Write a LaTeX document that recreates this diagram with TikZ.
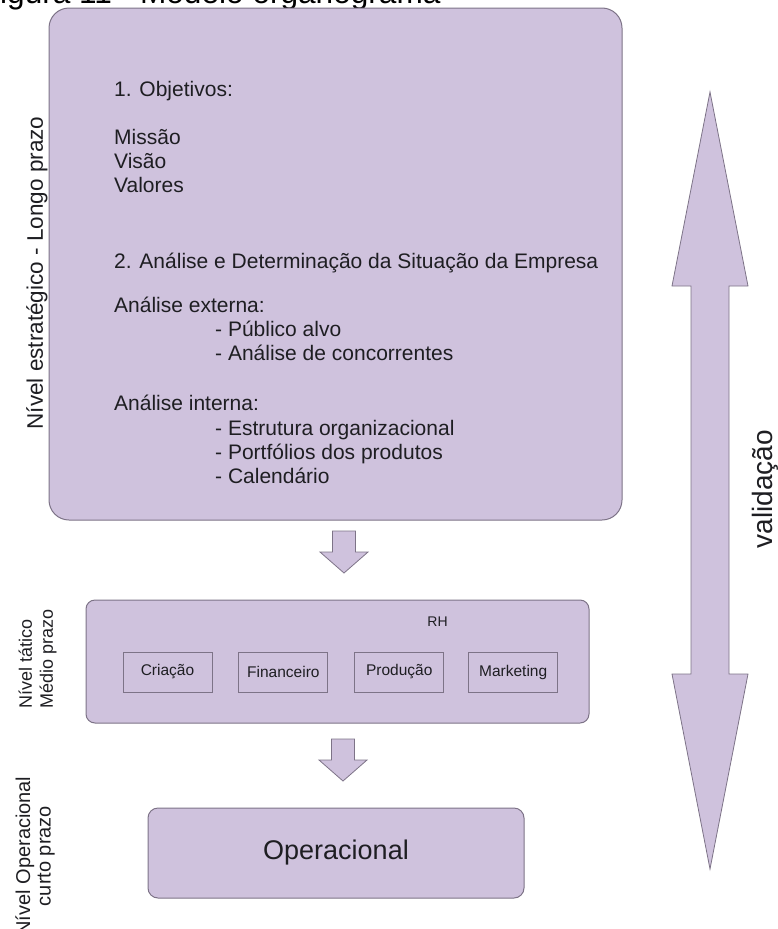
\documentclass[tikz,border=0pt]{standalone}
\usepackage{fontspec}
\setmainfont{Liberation Sans}
\usetikzlibrary{positioning}

\definecolor{lilas}{RGB}{207,194,221}
\definecolor{contorno}{RGB}{125,115,135}
\definecolor{texto}{RGB}{30,30,34}

% seta larga para baixo: x do centro, y do topo
\newcommand{\setabaixo}[2]{%
  \draw[bloco] (#1-11.5,#2) -- (#1+11.5,#2) -- (#1+11.5,#2+21) -- (#1+24,#2+21)
    -- (#1,#2+42) -- (#1-24,#2+21) -- (#1-11.5,#2+21) -- cycle;}

\begin{document}
\begin{tikzpicture}[x=1pt,y=-1pt,node distance=26pt,
  every node/.style={text=texto,inner sep=0pt},
  nivel/.style={draw=contorno,fill=lilas,line width=1pt,rounded corners=#1},
  nivel/.default=10pt,
  setor/.style={draw=contorno,fill=lilas,line width=0.9pt,minimum width=89pt,
    minimum height=40pt,font=\fontsize{15.5}{18}\selectfont},
  bloco/.style={draw=contorno,fill=lilas,line width=0.8pt,line join=miter},
  rotulo/.style={rotate=90,font=\fontsize{#1}{21}\selectfont}]
  \clip (0,0) rectangle (778,929);

  \node[anchor=base west,font=\fontsize{31.6}{36}\selectfont,text=black] (titulo) at (-19.3,3)
    {Figura 11 - Modelo organograma};

  % nivel estrategico
  \node[nivel=20pt,minimum width=573pt,minimum height=512pt] (estrategico) at (335.5,264) {};
  \node[anchor=north west,align=left,font=\fontsize{21}{24.2}\selectfont] (conteudo) at (114,80.7)
    {1. Objetivos:\\[23.8pt]
     Missão\\ Visão\\ Valores\\[51.8pt]
     2. Análise e Determinação da Situação da Empresa\\[19.8pt]
     Análise externa:\\
     \hspace*{101pt}- Público alvo\\
     \hspace*{101pt}- Análise de concorrentes\\[25.8pt]
     Análise interna:\\
     \hspace*{101pt}- Estrutura organizacional\\
     \hspace*{101pt}- Portfólios dos produtos\\
     \hspace*{101pt}- Calendário};

  % nivel tatico
  \node[nivel=9pt,minimum width=503pt,minimum height=123pt] (tatico) at (337.5,661.5) {};
  \node[font=\fontsize{14}{16}\selectfont] (rh) at (437.5,621.5) {RH};
  \node[setor] (criacao) at (167.5,672) {Criação};
  \node[setor,right=of criacao] (financeiro) {Financeiro};
  \node[setor,right=of financeiro] (producao) {Produção};
  \node[setor,right=24pt of producao] (marketing) {Marketing};

  % nivel operacional
  \node[nivel=10pt,minimum width=376pt,minimum height=90pt,
    font=\fontsize{27}{31}\selectfont] (operacional) at (336,853) {Operacional};

  \setabaixo{344}{531}
  \setabaixo{343}{739}

  % rotulos laterais
  \node[rotulo=22.5] (nivelestr) at (37,273) {Nível estratégico - Longo prazo};
  \node[rotulo=18,align=left] (niveltat) at (37.5,658.5) {Nível tático\\Médio prazo};
  \node[rotulo=20,align=center,font=\fontsize{20}{20.5}\selectfont] (nivelop) at (35,856)
    {Nível Operacional\\curto prazo};

  % validacao
  \draw[bloco] (710,92) -- (748,286) -- (729,286) -- (729,674) -- (748,674) -- (710,869)
    -- (672,674) -- (691,674) -- (691,286) -- (672,286) -- cycle;
  \node[rotulo=28] (validacao) at (765,489) {validação};
\end{tikzpicture}
\end{document}
